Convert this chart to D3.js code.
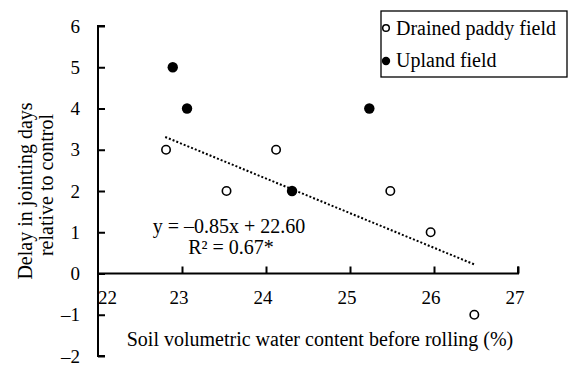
<!DOCTYPE html>
<html><head><meta charset="utf-8">
<script src="https://cdn.jsdelivr.net/npm/d3@7"></script>
<style>
body{margin:0;background:#fff;}
svg text{font-family:"Liberation Serif","Times New Roman",serif;fill:#000;}
</style></head>
<body><svg id="c" width="568" height="365"></svg>
<script>
const drainedX = [22.81, 23.53, 24.12, 25.48, 25.96, 26.48];
const drainedY = [3, 2, 3, 2, 1, -1];
const uplandX = [22.89, 23.06, 24.31, 25.23];
const uplandY = [5, 4, 2, 4];
const trendX = [22.8, 26.48];
const trendY = [3.31, 0.22];
const xTicks = [22, 23, 24, 25, 26, 27];
const yTicks = [-2, -1, 0, 1, 2, 3, 4, 5, 6];
const seriesNames = ["Drained paddy field", "Upland field"];
const equationLines = ["y = –0.85x + 22.60", "R² = 0.67*"];
const xTitle = "Soil volumetric water content before rolling (%)";
const yTitleLines = ["Delay in jointing days", "relative to control"];

const svg = d3.select("#c");
const x = d3.scaleLinear().domain([22, 27]).range([98, 518]);
const y = d3.scaleLinear().domain([-2, 6]).range([356, 26]);
const fsTick = 19, fs = 20;

// Y axis
const yAxis = svg.append("g").attr("transform", `translate(${x(22)},0)`)
  .call(d3.axisRight(y).tickValues(yTicks).tickSize(7).tickFormat(""));
yAxis.select(".domain").attr("stroke", "#000").attr("stroke-width", 2).attr("d", `M7,${y(-2)}H0V${y(6)}H7`);
yAxis.selectAll(".tick line").attr("stroke", "#000").attr("stroke-width", 2);
svg.append("g").selectAll("text").data(yTicks).join("text")
  .attr("x", 80).attr("y", d => y(d) + 6.5).attr("text-anchor", "end")
  .attr("font-size", fsTick).text(d => d < 0 ? "–" + Math.abs(d) : d);

// X axis
const xAxis = svg.append("g").attr("transform", `translate(0,${y(0)})`)
  .call(d3.axisTop(x).tickValues(xTicks.slice(1)).tickSize(7).tickFormat(""));
xAxis.select(".domain").attr("stroke", "#000").attr("stroke-width", 2).attr("d", `M${x(22)},0H${x(27)}V-7`);
xAxis.selectAll(".tick line").attr("stroke", "#000").attr("stroke-width", 2);
svg.append("g").selectAll("text").data(xTicks).join("text")
  .attr("x", (d, i) => i === 0 ? x(d) : x(d) - 3).attr("y", 304)
  .attr("text-anchor", (d, i) => i === 0 ? "start" : "middle")
  .attr("font-size", fsTick).text(d => d);

// Trend line
svg.append("path")
  .attr("d", d3.line().x(d => x(d[0])).y(d => y(d[1]))(trendX.map((v, i) => [v, trendY[i]])))
  .attr("fill", "none").attr("stroke", "#000").attr("stroke-width", 2).attr("stroke-dasharray", "2,2");

// Points
svg.append("g").selectAll("circle").data(drainedX.map((v, i) => [v, drainedY[i]])).join("circle")
  .attr("cx", d => x(d[0])).attr("cy", d => y(d[1])).attr("r", 4.2)
  .attr("fill", "#fff").attr("stroke", "#000").attr("stroke-width", 1.6);
svg.append("g").selectAll("circle").data(uplandX.map((v, i) => [v, uplandY[i]])).join("circle")
  .attr("cx", d => x(d[0])).attr("cy", d => y(d[1])).attr("r", 5.2).attr("fill", "#000");

// Equation
svg.append("text").attr("x", 229).attr("y", 233).attr("text-anchor", "middle").attr("font-size", fs).text(equationLines[0]);
svg.append("text").attr("x", 231).attr("y", 254).attr("text-anchor", "middle").attr("font-size", fs).text(equationLines[1]);

// Axis titles
svg.append("text").attr("x", 320).attr("y", 346).attr("text-anchor", "middle").attr("font-size", fs).text(xTitle);
const yTitleCenters = [191, 185];
yTitleLines.forEach((t, i) => {
  svg.append("text").attr("transform", `translate(${32 + i * 21},${yTitleCenters[i]}) rotate(-90)`)
    .attr("text-anchor", "middle").attr("font-size", fs).text(t);
});

// Legend
const lg = svg.append("g");
lg.append("rect").attr("x", 381).attr("y", 11).attr("width", 186).attr("height", 66)
  .attr("fill", "#fff").attr("stroke", "#000").attr("stroke-width", 1.3);
lg.append("circle").attr("cx", 386).attr("cy", 28).attr("r", 3.3).attr("fill", "#fff").attr("stroke", "#000").attr("stroke-width", 1.5);
lg.append("circle").attr("cx", 386).attr("cy", 61).attr("r", 4.2).attr("fill", "#000");
seriesNames.forEach((t, i) => {
  lg.append("text").attr("x", 396).attr("y", 35 + i * 32).attr("font-size", fs).text(t);
});
</script></body></html>
